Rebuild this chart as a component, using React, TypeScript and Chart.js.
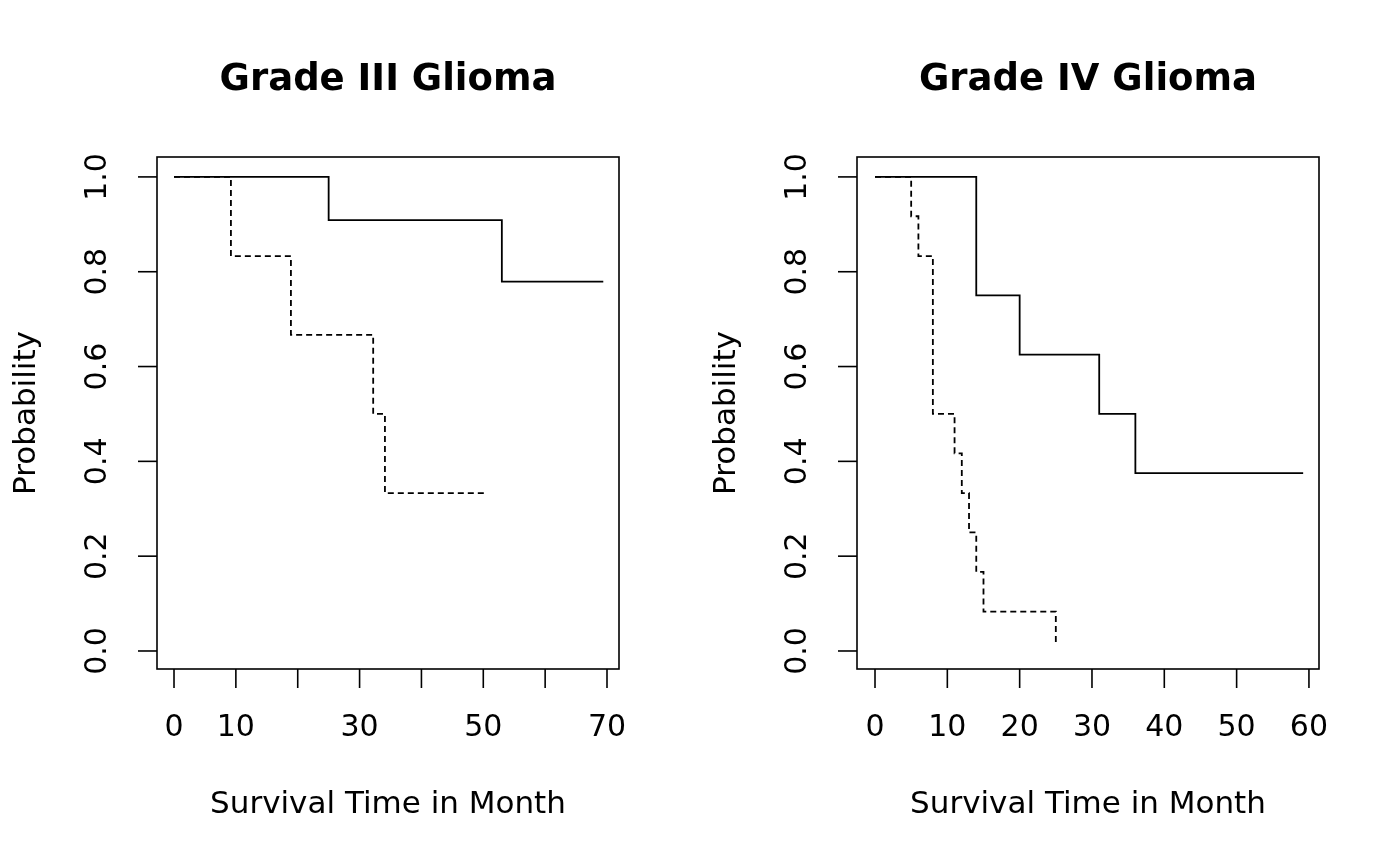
import React, { useEffect, useRef } from "react";
import { Chart, registerables } from "chart.js";
Chart.register(...registerables);

const g3Solid = [{ x: 0, y: 1 }, { x: 25, y: 0.909 }, { x: 53, y: 0.779 }, { x: 69.4, y: 0.779 }];
const g3Dashed = [{ x: 0, y: 1 }, { x: 9.2, y: 0.833 }, { x: 18.9, y: 0.667 }, { x: 32.2, y: 0.5 }, { x: 34.1, y: 0.333 }, { x: 50.3, y: 0.333 }];
const g4Solid = [{ x: 0, y: 1 }, { x: 14, y: 0.75 }, { x: 20, y: 0.625 }, { x: 31, y: 0.5 }, { x: 36, y: 0.375 }, { x: 59.2, y: 0.375 }];
const g4Dashed = [{ x: 0, y: 1 }, { x: 5, y: 0.917 }, { x: 6, y: 0.833 }, { x: 8, y: 0.5 }, { x: 11, y: 0.417 }, { x: 12, y: 0.333 }, { x: 13, y: 0.25 }, { x: 14, y: 0.167 }, { x: 15, y: 0.083 }, { x: 25, y: 0.083 }, { x: 25, y: 0.013 }];

const g3XTicks = [0, 10, 20, 30, 40, 50, 60, 70];
const g3XLabels = ["0", "10", "", "30", "", "50", "", "70"];
const g4XTicks = [0, 10, 20, 30, 40, 50, 60];
const g4XLabels = ["0", "10", "20", "30", "40", "50", "60"];
const yTicks = [0, 0.2, 0.4, 0.6, 0.8, 1.0];
const yLabels = ["0.0", "0.2", "0.4", "0.6", "0.8", "1.0"];

const FONT = "'DejaVu Sans', sans-serif";

function Panel({ title, solid, dashed, xmin, xmax, xTicks, xLabels, left }: any) {
  const ref = useRef<HTMLCanvasElement>(null);
  useEffect(() => {
    const rPlugin = {
      id: "rstyle",
      afterDraw(chart: any) {
        const ctx = chart.ctx;
        const a = chart.chartArea;
        const xs = chart.scales.x, ys = chart.scales.y;
        ctx.save();
        ctx.strokeStyle = "#000";
        ctx.fillStyle = "#000";
        ctx.lineWidth = 1.6;
        ctx.strokeRect(a.left, a.top, a.right - a.left, a.bottom - a.top);
        ctx.font = `30px ${FONT}`;
        ctx.textAlign = "center";
        ctx.textBaseline = "middle";
        xTicks.forEach((t: number, i: number) => {
          const px = xs.getPixelForValue(t);
          ctx.beginPath(); ctx.moveTo(px, a.bottom); ctx.lineTo(px, a.bottom + 19); ctx.stroke();
          if (xLabels[i]) ctx.fillText(xLabels[i], px, a.bottom + 59);
        });
        yTicks.forEach((t: number, i: number) => {
          const py = ys.getPixelForValue(t);
          ctx.beginPath(); ctx.moveTo(a.left, py); ctx.lineTo(a.left - 19, py); ctx.stroke();
          ctx.save(); ctx.translate(a.left - 59, py); ctx.rotate(-Math.PI / 2);
          ctx.fillText(yLabels[i], 0, 0); ctx.restore();
        });
        ctx.font = `31px ${FONT}`;
        ctx.fillText("Survival Time in Month", (a.left + a.right) / 2, 805);
        ctx.save(); ctx.translate(27, (a.top + a.bottom) / 2); ctx.rotate(-Math.PI / 2);
        ctx.fillText("Probability", 0, 0); ctx.restore();
        ctx.font = `bold 37px ${FONT}`;
        ctx.fillText(title, (a.left + a.right) / 2, 80);
        ctx.restore();
      },
    };
    const chart = new Chart(ref.current!, {
      type: "line",
      data: {
        datasets: [
          { data: solid, borderColor: "#000", borderWidth: 1.8, stepped: "before", pointRadius: 0, fill: false },
          { data: dashed, borderColor: "#000", borderWidth: 1.8, borderDash: [6, 4], stepped: "before", pointRadius: 0, fill: false },
        ],
      },
      options: {
        animation: false,
        responsive: false,
        layout: { padding: { left: 157, right: 81, top: 157, bottom: 197 } },
        plugins: { legend: { display: false }, tooltip: { enabled: false } },
        scales: {
          x: { type: "linear", min: xmin, max: xmax, display: false },
          y: { type: "linear", min: -0.038, max: 1.042, display: false },
        },
      },
      plugins: [rPlugin],
    });
    return () => chart.destroy();
  }, []);
  return <canvas ref={ref} width={700} height={866} style={{ position: "absolute", left, top: 0, width: 700, height: 866 }} />;
}

export default function App() {
  return (
    <div style={{ position: "fixed", left: 0, top: 0, width: 1400, height: 866, background: "#fff" }}>
      <Panel title="Grade III Glioma" solid={g3Solid} dashed={g3Dashed} xmin={-2.75} xmax={71.94} xTicks={g3XTicks} xLabels={g3XLabels} left={0} />
      <Panel title="Grade IV Glioma" solid={g4Solid} dashed={g4Dashed} xmin={-2.49} xmax={61.39} xTicks={g4XTicks} xLabels={g4XLabels} left={700} />
    </div>
  );
}
